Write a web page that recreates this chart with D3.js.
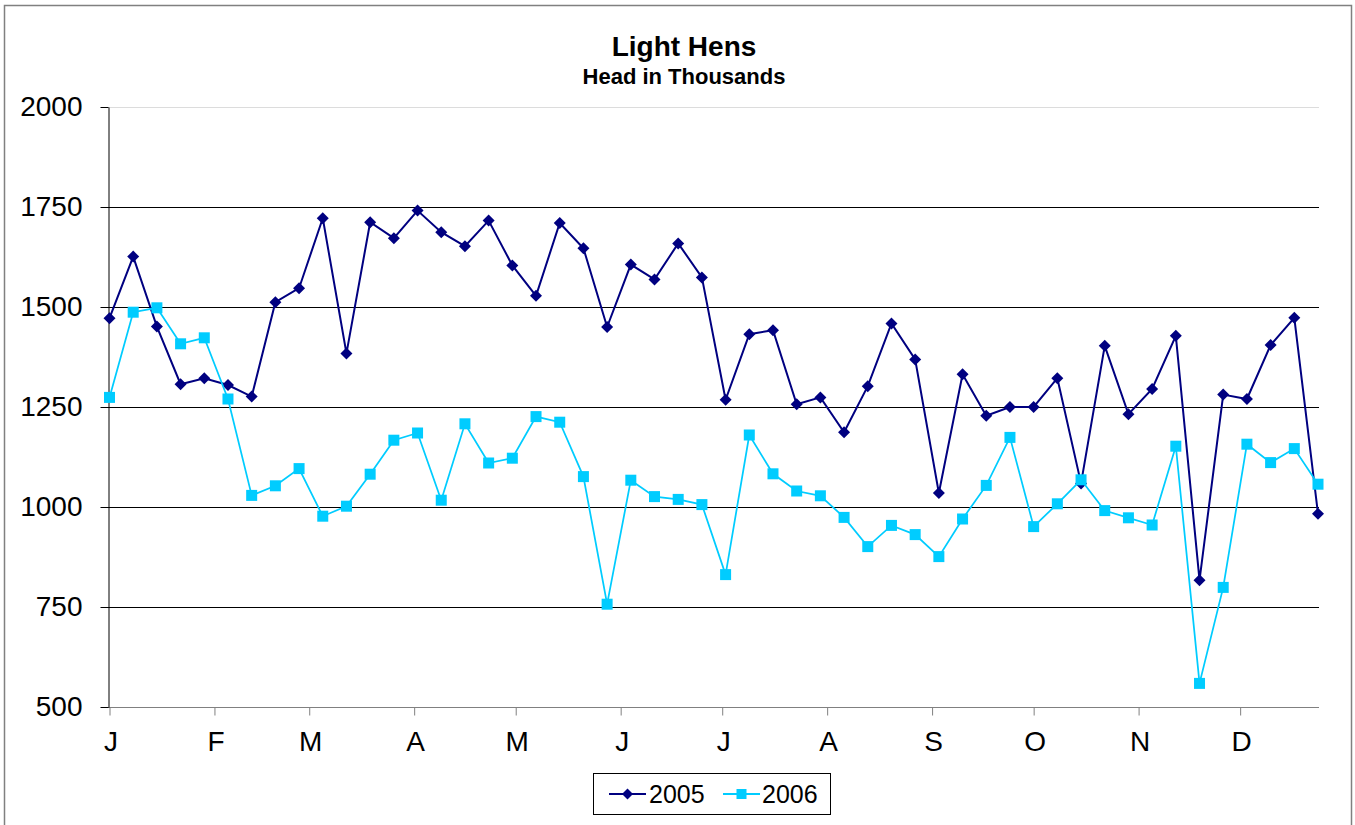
<!DOCTYPE html>
<html lang="en">
<head>
    <meta charset="UTF-8">
    <title>Light Hens</title>
    <style>
        body {
            margin: 0;
            background-color: white;
            font-family: "Liberation Sans", Arial, sans-serif;
        }
    </style>
    <script src="https://d3js.org/d3.v7.min.js"></script>
</head>
<body>
    <div id="chart"></div>
    <script>
        // Weekly values, head in thousands
        var values2005 = [1472, 1626, 1451, 1307, 1322, 1305, 1276, 1512, 1547, 1722, 1384, 1712, 1672,
                          1741, 1687, 1652, 1716, 1604, 1528, 1710, 1647, 1450, 1606, 1569, 1659, 1574,
                          1268, 1432, 1442, 1257, 1274, 1187, 1302, 1459, 1369, 1035, 1332, 1228, 1250,
                          1250, 1322, 1059, 1403, 1232, 1295, 1428, 817, 1281, 1270, 1405, 1473, 983];
        var values2006 = [1274, 1487, 1498, 1408, 1423, 1270, 1029, 1053, 1096, 977, 1002, 1082, 1167,
                          1185, 1017, 1208, 1110, 1122, 1226, 1212, 1076, 757, 1067, 1026, 1019, 1006,
                          831, 1180, 1083, 1040, 1028, 974, 901, 954, 931, 876, 970, 1054, 1174,
                          951, 1008, 1068, 991, 973, 955, 1152, 559, 799, 1157, 1111, 1146, 1057];
        var seriesNames = ["2005", "2006"];
        var monthLabels = ["J", "F", "M", "A", "M", "J", "J", "A", "S", "O", "N", "D"];
        var yTicks = [500, 750, 1000, 1250, 1500, 1750, 2000];

        var width = 1355, height = 825;
        var plotLeft = 108, plotRight = 1319, plotTop = 107, plotBottom = 707;

        // weeks run Saturday to Saturday, Jan 1 to Dec 24
        var startDate = new Date(2005, 0, 1);
        var endDate = new Date(2005, 11, 24);
        var weeks = d3.timeSaturday.range(startDate, d3.timeDay.offset(endDate, 1));

        var svg = d3.select("#chart").append("svg")
            .attr("width", width)
            .attr("height", height);

        // chart border
        svg.append("rect")
            .attr("x", 4.5).attr("y", 5.5)
            .attr("width", 1347).attr("height", 830)
            .attr("fill", "white")
            .attr("stroke", "#808080")
            .attr("stroke-width", 1.5);

        var x = d3.scaleTime().domain([startDate, endDate]).range([plotLeft + 1.5, plotRight - 1]);
        var y = d3.scaleLinear().domain([500, 2000]).range([plotBottom, plotTop]);

        // gridlines
        svg.append("g")
            .selectAll("line")
            .data(yTicks.filter(d => d > 500))
            .enter().append("line")
            .attr("x1", plotLeft).attr("x2", plotRight)
            .attr("y1", d => Math.round(y(d)) + 0.5)
            .attr("y2", d => Math.round(y(d)) + 0.5)
            .attr("stroke", d => d === 2000 ? "#dcdcdc" : "#000")
            .attr("stroke-width", 1);

        // x axis
        var xAxis = svg.append("g")
            .attr("transform", "translate(0," + (plotBottom + 0.5) + ")")
            .call(d3.axisBottom(x)
                .ticks(d3.timeMonth.every(1))
                .tickSize(8)
                .tickSizeOuter(0)
                .tickFormat(d => monthLabels[d.getMonth()]));
        xAxis.select(".domain").attr("d", "M" + plotLeft + ",0H" + plotRight).attr("stroke", "#808080");
        xAxis.selectAll(".tick line").attr("stroke", "#808080");
        xAxis.selectAll(".tick text")
            .attr("y", 43)
            .attr("dy", 0)
            .attr("dx", 1)
            .attr("font-size", 28)
            .attr("font-family", "Liberation Sans, Arial, sans-serif")
            .attr("fill", "#000");

        // y axis
        var yAxis = svg.append("g")
            .attr("transform", "translate(" + (plotLeft + 0.5) + ",0)")
            .call(d3.axisLeft(y)
                .tickValues(yTicks)
                .tickSize(8)
                .tickSizeOuter(0)
                .tickPadding(18)
                .tickFormat(d3.format("d")));
        yAxis.select(".domain").attr("stroke", "#000");
        yAxis.selectAll(".tick line").attr("stroke", "#000");
        yAxis.selectAll(".tick text")
            .attr("font-size", 28)
            .attr("font-family", "Liberation Sans, Arial, sans-serif")
            .attr("fill", "#000");

        var line = d3.line()
            .x((d, i) => x(weeks[i]))
            .y(d => y(d));

        // 2005 series
        svg.append("path")
            .datum(values2005)
            .attr("d", line)
            .attr("fill", "none")
            .attr("stroke", "#000080")
            .attr("stroke-width", 2);

        svg.append("g")
            .selectAll("path")
            .data(values2005)
            .enter().append("path")
            .attr("d", "M0,-6L6,0L0,6L-6,0Z")
            .attr("transform", (d, i) => "translate(" + x(weeks[i]) + "," + y(d) + ")")
            .attr("fill", "#000080");

        // 2006 series
        svg.append("path")
            .datum(values2006)
            .attr("d", line)
            .attr("fill", "none")
            .attr("stroke", "#00ccff")
            .attr("stroke-width", 1.75);

        svg.append("g")
            .selectAll("rect")
            .data(values2006)
            .enter().append("rect")
            .attr("x", (d, i) => x(weeks[i]) - 5.5)
            .attr("y", d => y(d) - 5.5)
            .attr("width", 11)
            .attr("height", 11)
            .attr("fill", "#00ccff");

        // titles
        svg.append("text")
            .attr("x", 684).attr("y", 56)
            .attr("text-anchor", "middle")
            .attr("font-size", 28)
            .attr("font-weight", "bold")
            .text("Light Hens");
        svg.append("text")
            .attr("x", 684).attr("y", 84)
            .attr("text-anchor", "middle")
            .attr("font-size", 22)
            .attr("font-weight", "bold")
            .text("Head in Thousands");

        // legend
        var legend = svg.append("g");
        legend.append("rect")
            .attr("x", 593.5).attr("y", 773.5)
            .attr("width", 237).attr("height", 41)
            .attr("fill", "white")
            .attr("stroke", "#000")
            .attr("stroke-width", 1);

        var legendItems = [
            { name: seriesNames[0], x: 609, color: "#000080", textX: 649 },
            { name: seriesNames[1], x: 723, color: "#00ccff", textX: 762 }
        ];
        legendItems.forEach(function (item, i) {
            legend.append("line")
                .attr("x1", item.x).attr("x2", item.x + 37)
                .attr("y1", 794).attr("y2", 794)
                .attr("stroke", item.color)
                .attr("stroke-width", 2);
            if (i === 0) {
                legend.append("path")
                    .attr("d", "M0,-5.5L5.5,0L0,5.5L-5.5,0Z")
                    .attr("transform", "translate(" + (item.x + 18.5) + ",794)")
                    .attr("fill", item.color);
            } else {
                legend.append("rect")
                    .attr("x", item.x + 18.5 - 5).attr("y", 789)
                    .attr("width", 10).attr("height", 10)
                    .attr("fill", item.color);
            }
            legend.append("text")
                .attr("x", item.textX).attr("y", 803)
                .attr("font-size", 25)
                .text(item.name);
        });
    </script>
</body>
</html>
